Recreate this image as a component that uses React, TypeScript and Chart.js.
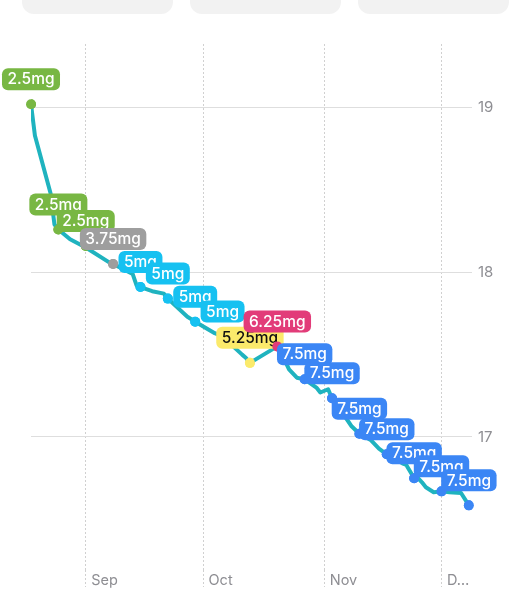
import React, { useEffect, useRef } from "react";
import { Chart, registerables } from "chart.js";

Chart.register(...registerables);

// Days counted from Aug 18
const weightDays = [0, 1, 5, 6, 7, 9, 10, 14, 20, 21, 26, 27, 28, 31, 34, 35, 40, 42, 47, 49, 54, 55, 56, 63, 65, 66, 68, 70, 73, 74, 76, 77, 81, 82, 84, 87, 89, 91, 95, 96, 98, 99, 100, 101, 103, 105, 107, 110, 112];
const weightValues = [19.02, 18.83, 18.48, 18.29, 18.26, 18.22, 18.2, 18.15, 18.06, 18.05, 17.99, 17.92, 17.91, 17.885, 17.87, 17.84, 17.73, 17.7, 17.63, 17.61, 17.5, 17.48, 17.45, 17.55, 17.46, 17.41, 17.36, 17.35, 17.3, 17.27, 17.29, 17.235, 17.1, 17.065, 17.02, 16.98, 16.93, 16.895, 16.84, 16.83, 16.75, 16.75, 16.725, 16.695, 16.665, 16.67, 16.665, 16.66, 16.585];

const doseDays = [0, 7, 14, 21, 28, 35, 42, 49, 56, 63, 70, 77, 84, 91, 98, 105, 112];
const doseValues = [19.02, 18.26, 18.16, 18.05, 17.91, 17.84, 17.7, 17.61, 17.45, 17.55, 17.35, 17.235, 17.02, 16.895, 16.75, 16.67, 16.585];
const doseLabels = ["2.5mg", "2.5mg", "2.5mg", "3.75mg", "5mg", "5mg", "5mg", "5mg", "5.25mg", "6.25mg", "7.5mg", "7.5mg", "7.5mg", "7.5mg", "7.5mg", "7.5mg", "7.5mg"];

const monthTickDays = [14, 44, 75, 105];
const monthLabels = ["Sep", "Oct", "Nov", "D…"];
const yTicks = [17, 18, 19];

const doseColors: Record<string, string> = {
  "2.5mg": "#78b743",
  "3.75mg": "#9e9e9e",
  "5mg": "#16c1f1",
  "5.25mg": "#fbea6b",
  "6.25mg": "#e23c79",
  "7.5mg": "#3b86f5",
};
const doseTextColors: Record<string, string> = {
  "5.25mg": "#111111",
};

const labelPlugin = {
  id: "doseLabels",
  afterDatasetsDraw(chart: any) {
    const meta = chart.getDatasetMeta(1);
    const ctx = chart.ctx as CanvasRenderingContext2D;
    ctx.save();
    ctx.font = "500 15.5px Inter";
    ctx.textAlign = "center";
    ctx.textBaseline = "middle";
    meta.data.forEach((el: any, i: number) => {
      el.draw(ctx, chart.chartArea);
      const text = doseLabels[i];
      const w = ctx.measureText(text).width + 11;
      const h = 22;
      const cx = el.x;
      const cy = el.y - 25;
      ctx.fillStyle = doseColors[text];
      ctx.beginPath();
      (ctx as any).roundRect(cx - w / 2, cy - h / 2, w, h, 6);
      ctx.fill();
      ctx.fillStyle = doseTextColors[text] || "#ffffff";
      ctx.fillText(text, cx, cy + 0.5);
    });
    ctx.restore();
  },
};

export default function App() {
  const ref = useRef<HTMLCanvasElement | null>(null);
  useEffect(() => {
    if (!ref.current) return;
    const chart = new Chart(ref.current, {
      type: "line",
      data: {
        datasets: [
          {
            label: "Weight",
            data: weightDays.map((d, i) => ({ x: d, y: weightValues[i] })),
            borderColor: "#1fb3bf",
            borderWidth: 4,
            pointRadius: 0,
            tension: 0,
            borderJoinStyle: "round",
            borderCapStyle: "round",
          },
          {
            label: "Dose",
            data: doseDays.map((d, i) => ({ x: d, y: doseValues[i] })),
            showLine: false,
            pointRadius: 5,
            pointBorderWidth: 0,
            pointBackgroundColor: doseLabels.map((l) => doseColors[l]),
            pointBorderColor: doseLabels.map((l) => doseColors[l]),
          },
        ],
      },
      options: {
        animation: false,
        responsive: false,
        layout: { padding: { left: 31, top: 44, right: 0, bottom: 0 } },
        plugins: { legend: { display: false }, tooltip: { enabled: false } },
        scales: {
          x: {
            type: "linear",
            min: 0,
            max: 112.8,
            afterBuildTicks: (axis: any) => {
              axis.ticks = monthTickDays.map((v) => ({ value: v }));
            },
            afterFit: (s: any) => {
              s.height = 30;
            },
            grid: {
              color: "#d0d0d0",
              lineWidth: 1,
              drawTicks: true,
              tickLength: 17,
              tickBorderDash: [2, 2],
              tickColor: "#d0d0d0",
            } as any,
            border: { display: false, dash: [2, 2] },
            ticks: {
              autoSkip: false,
              maxRotation: 0,
              align: "start",
              labelOffset: 5.5,
              padding: -15.4,
              color: "#8e8e93",
              font: { family: "Inter", size: 14.5 },
              callback: (_v: any, i: number) => monthLabels[i],
            },
          },
          y: {
            type: "linear",
            position: "right",
            min: 16.1927,
            max: 19.3854,
            afterBuildTicks: (axis: any) => {
              axis.ticks = yTicks.map((v) => ({ value: v }));
            },
            afterFit: (s: any) => {
              s.width = 59;
            },
            grid: { color: "#dedede", lineWidth: 1, drawTicks: false },
            border: { display: false },
            ticks: {
              padding: 6,
              color: "#8e8e93",
              font: { family: "Inter", size: 15 },
              callback: (v: any) => String(v),
            },
          },
        },
      },
      plugins: [labelPlugin],
    });
    return () => chart.destroy();
  }, []);

  const box = (left: number, width: number): React.CSSProperties => ({
    position: "absolute",
    left,
    top: 0,
    width,
    height: 14,
    background: "#f2f2f2",
    borderRadius: "0 0 12px 12px",
  });

  return (
    <div style={{ position: "absolute", left: 0, top: 0, width: 531, height: 600, background: "#ffffff" }}>
      <canvas ref={ref} width={531} height={600} style={{ position: "absolute", left: 0, top: 0, width: 531, height: 600 }} />
      <div style={box(22, 151)} />
      <div style={box(190, 151)} />
      <div style={box(358, 151)} />
    </div>
  );
}
